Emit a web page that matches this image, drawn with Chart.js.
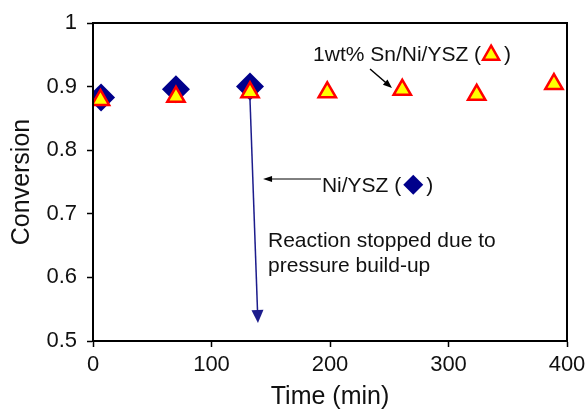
<!DOCTYPE html>
<html>
<head>
<meta charset="utf-8">
<script src="https://cdn.jsdelivr.net/npm/chart.js@4"></script>
<style>
html,body{margin:0;padding:0;background:#fff;}
#wrap{width:586px;height:410px;position:relative;}
</style>
</head>
<body>
<div id="wrap"><canvas id="c"></canvas></div>
<script>
// Data
const niTime = [6.8, 70.0, 132.5];
const niConversion = [0.883, 0.896, 0.900];
const snTime = [6.3, 70.0, 132.5, 197.7, 261.0, 323.8, 389.0];
const snConversion = [0.879, 0.884, 0.891, 0.891, 0.895, 0.887, 0.904];
const xTicks = [0, 100, 200, 300, 400];
const yTicks = [0.5, 0.6, 0.7, 0.8, 0.9, 1];

// Annotation anchors in data units
const niLabelAt = [193.2, 0.7347];
const snLabelAt = [185.7, 0.9407];
const noteLines = ["Reaction stopped due to", "pressure build-up"];
const noteAt = [[147.7, 0.6473], [147.7, 0.609]];
const niArrow = [[192.4, 0.7547], [143.5, 0.7547]];
const snArrow = [[233.8, 0.9277], [252.3, 0.8978]];
const stopArrow = [[132.5, 0.879], [139.2, 0.5283]];

const FONT = '"Liberation Sans", Arial, sans-serif';
const NAVY = '#00008b';

function arrow(ctx, x1, y1, x2, y2, color, lw, hl, hw) {
  const a = Math.atan2(y2 - y1, x2 - x1);
  ctx.save();
  ctx.strokeStyle = color; ctx.fillStyle = color; ctx.lineWidth = lw;
  ctx.beginPath();
  ctx.moveTo(x1, y1);
  ctx.lineTo(x2 - Math.cos(a) * hl * 0.8, y2 - Math.sin(a) * hl * 0.8);
  ctx.stroke();
  ctx.beginPath();
  ctx.moveTo(x2, y2);
  ctx.lineTo(x2 - Math.cos(a) * hl + Math.sin(a) * hw, y2 - Math.sin(a) * hl - Math.cos(a) * hw);
  ctx.lineTo(x2 - Math.cos(a) * hl - Math.sin(a) * hw, y2 - Math.sin(a) * hl + Math.cos(a) * hw);
  ctx.closePath();
  ctx.fill();
  ctx.restore();
}

const boxAndNotes = {
  id: 'boxAndNotes',
  beforeDatasetsDraw(chart) {
    const {ctx, scales: {x, y}} = chart;
    const p = v => [x.getPixelForValue(v[0]), y.getPixelForValue(v[1])];
    const s = p(stopArrow[0]), e = p(stopArrow[1]);
    arrow(ctx, s[0], s[1], e[0], e[1], '#1c1c8c', 1.5, 13, 6);
  },
  afterDatasetsDraw(chart) {
    const {ctx, chartArea: ca, scales: {x, y}} = chart;
    const p = v => [x.getPixelForValue(v[0]), y.getPixelForValue(v[1])];
    ctx.save();
    ctx.strokeStyle = '#000'; ctx.lineWidth = 2;
    ctx.strokeRect(ca.left, ca.top, ca.right - ca.left, ca.bottom - ca.top);

    let a = p(niArrow[0]), b = p(niArrow[1]);
    arrow(ctx, a[0], a[1], b[0], b[1], '#000', 1, 9, 3);
    a = p(snArrow[0]); b = p(snArrow[1]);
    arrow(ctx, a[0], a[1], b[0], b[1], '#000', 1.5, 9, 3.5);

    ctx.font = '21px ' + FONT;
    ctx.fillStyle = '#111';
    ctx.textBaseline = 'alphabetic';
    ctx.textAlign = 'left';

    // Ni/YSZ label with diamond
    let q = p(niLabelAt);
    let t1 = 'Ni/YSZ (';
    ctx.fillText(t1, q[0], q[1]);
    let w = ctx.measureText(t1).width;
    let cx = q[0] + w + 12, cy = q[1] - 7;
    ctx.fillStyle = NAVY;
    ctx.beginPath();
    ctx.moveTo(cx, cy - 10); ctx.lineTo(cx + 10, cy); ctx.lineTo(cx, cy + 10); ctx.lineTo(cx - 10, cy);
    ctx.closePath(); ctx.fill();
    ctx.fillStyle = '#111';
    ctx.fillText(')', cx + 13, q[1]);

    // Sn label with triangle
    q = p(snLabelAt);
    t1 = '1wt% Sn/Ni/YSZ (';
    ctx.fillText(t1, q[0], q[1]);
    w = ctx.measureText(t1).width;
    cx = q[0] + w + 10; cy = q[1] - 6;
    ctx.beginPath();
    ctx.moveTo(cx, cy - 9); ctx.lineTo(cx + 8, cy + 5); ctx.lineTo(cx - 8, cy + 5);
    ctx.closePath();
    ctx.fillStyle = '#ffff00'; ctx.fill();
    ctx.strokeStyle = '#ff0000'; ctx.lineWidth = 2.5; ctx.lineJoin = 'miter'; ctx.stroke();
    ctx.fillStyle = '#111';
    ctx.fillText(')', cx + 13, q[1]);

    noteLines.forEach((l, i) => {
      const r = p(noteAt[i]);
      ctx.fillText(l, r[0], r[1]);
    });
    ctx.restore();
  }
};

new Chart(document.getElementById('c'), {
  type: 'scatter',
  data: {
    datasets: [
      {
        label: 'Ni/YSZ',
        order: 2,
        data: niTime.map((t, i) => ({x: t, y: niConversion[i]})),
        pointStyle: 'rectRot',
        pointRadius: 14,
        backgroundColor: NAVY,
        borderColor: NAVY,
        borderWidth: 0
      },
      {
        label: '1wt% Sn/Ni/YSZ',
        order: 1,
        data: snTime.map((t, i) => ({x: t, y: snConversion[i]})),
        pointStyle: 'triangle',
        pointRadius: 10,
        backgroundColor: '#ffff00',
        borderColor: '#ff0000',
        borderWidth: 2.5
      }
    ]
  },
  options: {
    responsive: true,
    maintainAspectRatio: false,
    animation: false,
    layout: {padding: {left: 0, top: 23, right: 19, bottom: 0}},
    plugins: {legend: {display: false}, tooltip: {enabled: false}},
    scales: {
      x: {
        type: 'linear', min: 0, max: 400,
        afterBuildTicks: s => { s.ticks = xTicks.map(v => ({value: v})); },
        afterFit: s => { s.height = 69; s.paddingLeft = 0; s.paddingRight = 0; },
        grid: {drawOnChartArea: false, tickLength: 6, tickColor: '#000', tickWidth: 1.5},
        border: {color: '#000', width: 2},
        ticks: {font: {family: FONT, size: 22}, color: '#111', padding: 5, maxRotation: 0},
        title: {display: true, text: 'Time (min)', font: {family: FONT, size: 25, lineHeight: 1}, color: '#111', padding: {top: 0, bottom: 0}}
      },
      y: {
        type: 'linear', min: 0.5, max: 1,
        afterBuildTicks: s => { s.ticks = yTicks.map(v => ({value: v})); },
        afterFit: s => { s.width = 93; s.paddingTop = 0; s.paddingBottom = 0; },
        grid: {drawOnChartArea: false, tickLength: 6, tickColor: '#000', tickWidth: 1.5},
        border: {color: '#000', width: 2},
        ticks: {font: {family: FONT, size: 22}, color: '#111', padding: 10, callback: v => String(Math.round(v * 10) / 10)},
        title: {display: true, text: 'Conversion', font: {family: FONT, size: 25}, color: '#111', padding: {top: 7, bottom: 0}}
      }
    }
  },
  plugins: [boxAndNotes]
});
</script>
</body>
</html>
